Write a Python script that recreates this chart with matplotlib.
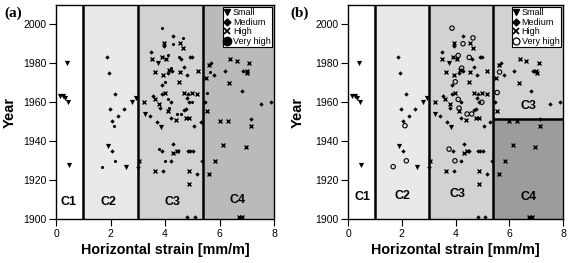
import matplotlib

matplotlib.use("Agg")
import matplotlib.pyplot as plt
from matplotlib.lines import Line2D

# Damage classes (x = horizontal strain [mm/m], y = year)
small_x = [0.40, 0.15, 0.25, 0.33, 0.45, 0.48, 2.80, 2.95, 1.90, 2.55, 3.75, 3.25, 3.85]
small_y = [1980, 1963, 1963, 1962, 1960, 1928, 1960, 1962, 1937.5, 1927, 1980, 1954, 1947.5]

medium_x = [1.87, 1.94, 2.15, 1.98, 2.50, 2.28, 2.06, 2.05, 3.00,
            4.28, 3.96, 3.49, 4.60, 4.27, 4.12, 4.81, 3.88, 3.87, 4.80, 3.55,
            4.20, 3.80, 4.70, 4.20, 3.44, 3.70, 5.06, 5.30, 4.90, 5.00, 4.85,
            4.88, 4.77, 4.85, 4.93, 5.01, 5.36, 5.16, 4.82, 5.10, 4.30, 3.90,
            4.49, 4.20, 3.94, 4.70,
            5.70, 5.81, 5.48, 6.19, 6.87, 6.81, 7.53, 7.88, 7.15]
medium_y = [1983, 1975, 1964, 1956.5, 1956.5, 1953, 1950.5, 1935, 1927,
            1994, 1989, 1986, 1982, 1976, 1975, 1974, 1969, 1964, 1962, 1963,
            1960, 1957, 1956, 1952, 1953, 1950, 1948, 1950, 1983, 1983, 1964,
            1960, 1956.5, 1935, 1935, 1935, 1930, 1923, 1901, 1901, 1938.5, 1935,
            1935, 1930, 1925, 1978,
            1980, 1974, 1960.4, 1976, 1976, 1966, 1959, 1960, 1951.5]

high_x = [4.55, 3.96, 4.65, 3.51, 3.89, 4.05, 4.16, 3.63, 3.94, 4.55, 4.52,
          3.99, 4.70, 3.62, 3.79, 3.23, 4.12, 4.40, 4.78, 4.88, 4.30, 3.63,
          3.06, 4.87, 4.87, 5.00, 5.18, 5.19, 4.43,
          5.50, 5.60, 5.53, 6.39, 6.63, 7.09, 6.36, 7.00, 7.02, 6.00, 6.30,
          7.16, 6.13, 6.97, 5.83, 5.60, 6.73, 6.83]
high_y = [1990.5, 1990.5, 1988, 1982, 1983, 1982, 1976.5, 1975.3, 1974.2, 1975.3, 1970.4,
          1965, 1965, 1961.5, 1959, 1960.4, 1955.3, 1951, 1952, 1952, 1934.2, 1925,
          1930, 1925, 1918, 1965, 1964.5, 1976.2, 1935,
          1972.3, 1979.3, 1955.3, 1982, 1981, 1980, 1970, 1976, 1975, 1950.4, 1950.4,
          1948, 1938, 1937.3, 1930, 1923, 1901, 1901]

vhigh_x = [3.87, 4.65, 4.28, 4.10, 4.51, 4.23, 3.99, 4.10, 4.13, 4.43, 4.60,
           4.98, 5.55, 5.64, 2.12, 1.68, 2.17, 3.76, 3.98]
vhigh_y = [1998, 1993, 1990, 1984, 1983, 1977.5, 1970.5, 1961.5, 1957, 1954, 1954,
           1960, 1965, 1975.5, 1948, 1927, 1930, 1936, 1930]

bounds = [1, 3, 5.4]
split_year = 1951.5

plt.rcParams["font.family"] = ["Liberation Sans", "DejaVu Sans"]

fig = plt.figure(figsize=(5.68, 2.63), dpi=100)
ax_a = fig.add_axes([0.0986, 0.166, 0.384, 0.816])
ax_b = fig.add_axes([0.6127, 0.166, 0.3785, 0.816])


def draw_panel(ax, label, label_x, ylab_x, open_vh):
    ax.set_xlim(0, 8)
    ax.set_ylim(1900, 2010)
    ax.axvspan(1, 3, color="#e9e9e9", zorder=0)
    ax.axvspan(3, 5.4, color="#d2d2d2", zorder=0)
    if open_vh:
        ax.axvspan(5.4, 8, ymin=(split_year - 1900) / 110, color="#d2d2d2", zorder=0)
        ax.axvspan(5.4, 8, ymax=(split_year - 1900) / 110, color="#9c9c9c", zorder=0)
        ax.hlines(split_year, 5.4, 8, color="black", lw=1.8, zorder=1)
    else:
        ax.axvspan(5.4, 8, color="#bababa", zorder=0)
    for b in bounds:
        ax.axvline(b, color="black", lw=1.8, zorder=1)

    ax.scatter(small_x, small_y, marker="v", s=14, c="black", lw=0, zorder=3)
    ax.scatter(medium_x, medium_y, marker="D", s=5, c="black", lw=0, zorder=3)
    ax.scatter(high_x, high_y, marker="x", s=8, c="black", lw=1.0, zorder=3)
    if open_vh:
        ax.scatter(vhigh_x, vhigh_y, marker="o", s=10, facecolors="none",
                   edgecolors="black", lw=0.8, zorder=3)
    else:
        ax.scatter(vhigh_x, vhigh_y, marker="o", s=5, c="black", lw=0, zorder=3)

    if open_vh:
        txt = [(0.55, 1911.5, "C1"), (2.02, 1912, "C2"), (4.08, 1913, "C3"),
               (6.72, 1958, "C3"), (6.73, 1911.5, "C4")]
    else:
        txt = [(0.45, 1909, "C1"), (1.92, 1909, "C2"), (4.27, 1909, "C3"),
               (6.65, 1910, "C4")]
    for x, y, s in txt:
        ax.text(x, y, s, ha="center", va="center", fontsize=9, fontweight="bold", zorder=4)

    ax.set_xticks([0, 2, 4, 6, 8])
    ax.set_yticks(range(1900, 2001, 20))
    ax.tick_params(direction="out", length=5, width=0.8, pad=2, labelsize=7.5)
    for sp in ax.spines.values():
        sp.set_linewidth(1.0)
    ax.set_xlabel("Horizontal strain [mm/m]", fontsize=10.3, fontweight="bold", labelpad=3)
    ax.set_ylabel("Year", fontsize=10.5, fontweight="bold")
    ax.yaxis.set_label_coords(ylab_x, 0.5)

    vh_handle = (Line2D([], [], ls="none", marker="o", ms=5, mfc="none", mec="black", mew=0.9)
                 if open_vh else Line2D([], [], ls="none", marker="o", ms=6, color="black"))
    handles = [Line2D([], [], ls="none", marker="v", ms=5, color="black"),
               Line2D([], [], ls="none", marker="D", ms=3.5, color="black"),
               Line2D([], [], ls="none", marker="x", ms=5, color="black", mew=1.3),
               vh_handle]
    leg = ax.legend(handles, ["Small", "Medium", "High", "Very high"], loc="upper right",
                    fontsize=6.5, frameon=True, fancybox=False, borderpad=0.15,
                    labelspacing=0.05, handlelength=0.7, handletextpad=0.25,
                    borderaxespad=0.25, framealpha=1)
    leg.get_frame().set_edgecolor("black")
    leg.get_frame().set_linewidth(0.8)
    leg.set_zorder(5)

    fig.text(label_x, 0.95, label, fontsize=11, fontweight="bold",
             family="Liberation Serif", va="center")


draw_panel(ax_a, "(a)", 0.008, -0.18, False)
draw_panel(ax_b, "(b)", 0.512, -0.2, True)

fig.savefig("out.png", dpi=100)
